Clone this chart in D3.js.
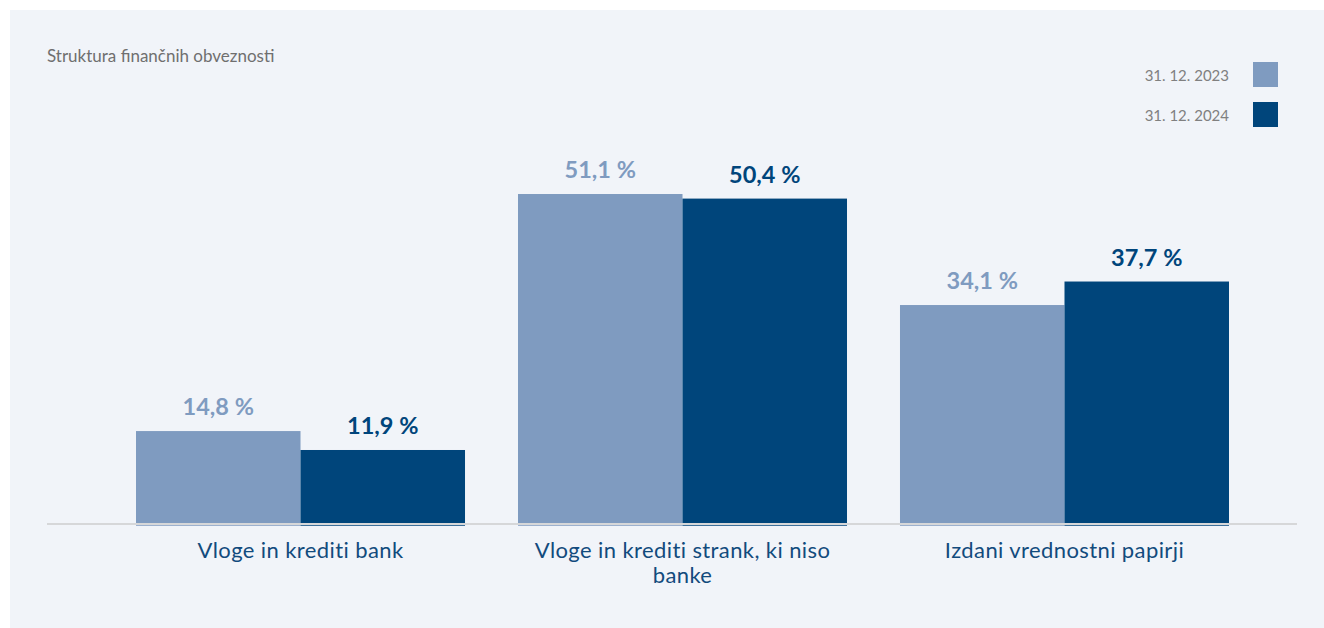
<!DOCTYPE html>
<html>
<head>
<meta charset="utf-8">
<script src="https://cdn.jsdelivr.net/npm/d3@7"></script>
<style>
  html, body { margin: 0; padding: 0; background: #ffffff; }
  svg { display: block; font-family: Lato, "Open Sans", sans-serif; }
</style>
</head>
<body>
<svg id="chart" width="1324" height="628"></svg>
<script>
// Financial liabilities structure, shares in %
const categories = [
  "Vloge in krediti bank",
  "Vloge in krediti strank, ki niso banke",
  "Izdani vrednostni papirji"
];
const seriesNames = ["31. 12. 2023", "31. 12. 2024"];
const values2023 = [14.8, 51.1, 34.1];
const values2024 = [11.9, 50.4, 37.7];
const chartTitle = "Struktura finančnih obveznosti";

const colors = ["#7f9bc0", "#00457b"];
const labelColors = ["#7f9bc0", "#00457b"];

const svg = d3.select("#chart");
const W = 1324, H = 628;

// panel background
svg.append("rect")
  .attr("x", 10).attr("y", 10)
  .attr("width", W - 10).attr("height", H - 10)
  .attr("fill", "#f1f4f9");

const rows = categories.map((c, i) => ({ cat: c, vals: [values2023[i], values2024[i]] }));

const x0 = d3.scaleBand().domain(categories).range([136, 1229]).paddingInner(0.1387).paddingOuter(0);
const x1 = d3.scaleBand().domain(d3.range(seriesNames.length)).range([0, x0.bandwidth()]).padding(0);
const y = d3.scaleLinear().domain([0, 60]).range([527.7, 135.9]);

const axisY = 524;

svg.append("defs").append("clipPath").attr("id", "plotClip")
  .append("rect").attr("x", 0).attr("y", 0).attr("width", W).attr("height", axisY + 1.7);

// bars
const groups = svg.append("g").attr("clip-path", "url(#plotClip)")
  .selectAll("g.grp").data(rows).join("g")
  .attr("class", "grp")
  .attr("transform", d => `translate(${x0(d.cat)},0)`);

groups.selectAll("rect").data(d => d.vals.map((v, i) => ({ v, i }))).join("rect")
  .attr("x", d => x1(d.i))
  .attr("width", x1.bandwidth())
  .attr("y", d => y(d.v))
  .attr("height", d => y(0) - y(d.v))
  .attr("fill", d => colors[d.i]);

// value labels
const fmt = v => d3.format(".1f")(v).replace(".", ",") + " %";
svg.append("g").selectAll("g").data(rows).join("g")
  .attr("transform", d => `translate(${x0(d.cat)},0)`)
  .selectAll("text").data(d => d.vals.map((v, i) => ({ v, i }))).join("text")
  .attr("x", d => x1(d.i) + x1.bandwidth() / 2)
  .attr("y", d => y(d.v) - 16)
  .attr("text-anchor", "middle")
  .attr("font-size", 23.5)
  .attr("font-weight", 700)
  .attr("fill", d => labelColors[d.i])
  .text(d => fmt(d.v));

// baseline
svg.append("line")
  .attr("x1", 47).attr("x2", 1297)
  .attr("y1", axisY).attr("y2", axisY)
  .attr("stroke", "#d6d7d9").attr("stroke-width", 2);

// category axis labels, wrapped to band width
const labelY = 34, lineStep = 25;
const xAxis = d3.axisBottom(x0).tickSize(0).tickPadding(0);
const axisG = svg.append("g").attr("transform", `translate(0,${axisY})`).call(xAxis);
axisG.select(".domain").remove();
axisG.selectAll("text")
  .attr("font-family", "Lato, 'Open Sans', sans-serif")
  .attr("font-size", 22)
  .attr("letter-spacing", 0.4)
  .attr("fill", "#124b7d")
  .attr("dy", null)
  .attr("y", labelY)
  .each(function () {
    const t = d3.select(this);
    const words = t.text().split(/\s+/);
    const maxW = x0.bandwidth();
    t.text(null);
    let line = [];
    let lineNo = 0;
    let tspan = t.append("tspan").attr("x", 0).attr("y", labelY);
    for (const w of words) {
      line.push(w);
      tspan.text(line.join(" "));
      if (tspan.node().getComputedTextLength() > maxW && line.length > 1) {
        line.pop();
        tspan.text(line.join(" "));
        line = [w];
        lineNo++;
        tspan = t.append("tspan").attr("x", 0).attr("y", labelY + lineNo * lineStep).text(w);
      }
    }
  });

// title
svg.append("text")
  .attr("x", 47).attr("y", 62)
  .attr("font-size", 17)
  .attr("fill", "#6f6f6f")
  .text(chartTitle);

// legend
const legend = svg.append("g").selectAll("g").data(seriesNames).join("g")
  .attr("transform", (d, i) => `translate(0,${62 + i * 40})`);
legend.append("rect")
  .attr("x", 1253).attr("y", 0)
  .attr("width", 25).attr("height", 25)
  .attr("fill", (d, i) => colors[i]);
legend.append("text")
  .attr("x", 1229).attr("y", 19)
  .attr("text-anchor", "end")
  .attr("font-size", 15)
  .attr("fill", "#808080")
  .text(d => d);
</script>
</body>
</html>
